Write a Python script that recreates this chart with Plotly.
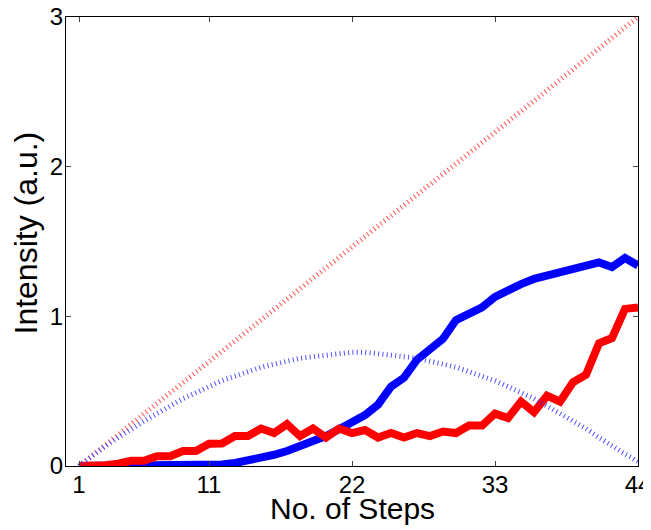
import plotly.graph_objects as go

steps = list(range(1, 45))

blue_solid = [0, 0, 0, 0, 0, 0, 0, 0.001, 0.002, 0.003, 0.005, 0.01, 0.02, 0.035,
              0.055, 0.075, 0.1, 0.13, 0.16, 0.2, 0.245, 0.29, 0.34, 0.41, 0.53,
              0.59, 0.71, 0.78, 0.85, 0.975, 1.015, 1.06, 1.13, 1.18, 1.215, 1.25,
              1.27, 1.30, 1.32, 1.335, 1.36, 1.33, 1.39, 1.34]

red_solid = [0, 0, 0.005, 0.015, 0.035, 0.035, 0.065, 0.065, 0.1, 0.1, 0.148, 0.15,
             0.2, 0.2, 0.25, 0.22, 0.28, 0.2, 0.25, 0.19, 0.25, 0.22, 0.24, 0.19,
             0.22, 0.19, 0.22, 0.2, 0.23, 0.22, 0.27, 0.27, 0.35, 0.32, 0.43, 0.36,
             0.47, 0.43, 0.56, 0.61, 0.82, 0.855, 1.05, 1.06]

red_dotted = [0, 0.07, 0.14, 0.21, 0.28, 0.35, 0.42, 0.49, 0.56, 0.63, 0.70, 0.77,
              0.84, 0.91, 0.98, 1.05, 1.12, 1.19, 1.26, 1.33, 1.40, 1.47, 1.53,
              1.60, 1.67, 1.74, 1.81, 1.88, 1.95, 2.02, 2.09, 2.16, 2.23, 2.30,
              2.37, 2.44, 2.51, 2.58, 2.65, 2.72, 2.79, 2.86, 2.93, 3.0]

blue_dotted = [0, 0.07, 0.13, 0.19, 0.25, 0.30, 0.35, 0.40, 0.45, 0.49, 0.53, 0.57,
               0.60, 0.63, 0.66, 0.68, 0.70, 0.72, 0.73, 0.74, 0.75, 0.76, 0.76,
               0.75, 0.74, 0.73, 0.72, 0.70, 0.68, 0.66, 0.63, 0.60, 0.57, 0.53,
               0.49, 0.45, 0.40, 0.35, 0.30, 0.25, 0.19, 0.13, 0.08, 0.03]

x_ticks = [1, 11, 22, 33, 44]
y_ticks = [0, 1, 2, 3]
x_title = "No. of Steps"
y_title = "Intensity (a.u.)"

FONT = "Liberation Sans, Arial, sans-serif"

fig = go.Figure()
fig.add_trace(go.Scatter(x=steps, y=blue_solid, mode="lines",
                         line=dict(color="rgb(0,0,255)", width=8)))
fig.add_trace(go.Scatter(x=steps, y=red_solid, mode="lines",
                         line=dict(color="rgb(255,0,0)", width=8)))
fig.add_trace(go.Scatter(x=steps, y=red_dotted, mode="lines",
                         line=dict(color="rgba(255,50,50,0.85)", width=5, dash="1px,3.3px")))
fig.add_trace(go.Scatter(x=steps, y=blue_dotted, mode="lines",
                         line=dict(color="rgba(50,50,255,0.85)", width=5, dash="1px,3.3px")))

axis_common = dict(showline=True, linecolor="black", linewidth=1, mirror="ticks",
                   ticks="inside", ticklen=5, tickcolor="#444", tickwidth=1,
                   showgrid=False, zeroline=False, automargin=False,
                   ticklabeloverflow="allow", ticklabelstandoff=-3,
                   tickfont=dict(family=FONT, size=24, color="black"))

fig.update_layout(
    width=643, height=522,
    margin=dict(l=58, r=13, t=9, b=64),
    paper_bgcolor="white", plot_bgcolor="white",
    showlegend=False,
    xaxis=dict(range=[0, 44], tickvals=x_ticks, ticktext=[str(v) for v in x_ticks],
               **axis_common),
    yaxis=dict(range=[0, 3], tickvals=y_ticks, ticktext=[str(v) for v in y_ticks],
               **axis_common),
    annotations=[
        dict(text=x_title, xref="paper", yref="paper", x=0.5, y=0,
             xanchor="center", yanchor="middle", yshift=-42, showarrow=False,
             font=dict(family=FONT, size=30, color="black")),
        dict(text=y_title, xref="paper", yref="paper", x=0, y=0.5,
             xanchor="center", yanchor="middle", xshift=-41, yshift=8,
             textangle=-90, showarrow=False,
             font=dict(family=FONT, size=32, color="black")),
    ],
)

fig.write_html("out.html")
